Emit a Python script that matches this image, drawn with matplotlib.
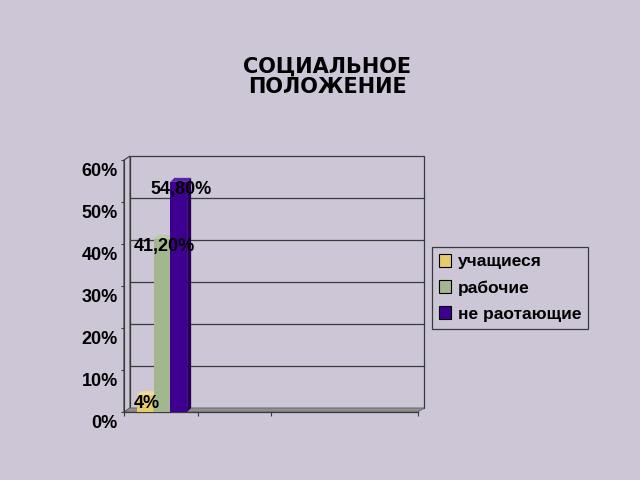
import matplotlib
matplotlib.use("Agg")
import matplotlib.pyplot as plt
from matplotlib.patches import Polygon, Rectangle, Patch

# chart data
groups = ["учащиеся", "рабочие", "не раотающие"]
shares = [0.04, 0.412, 0.548]
share_labels = ["4%", "41,20%", "54,80%"]
y_ticks = [0.0, 0.1, 0.2, 0.3, 0.4, 0.5, 0.6]
y_tick_labels = ["0%", "10%", "20%", "30%", "40%", "50%", "60%"]
x_ticks = [0, 1, 2, 4]
title = "СОЦИАЛЬНОЕ\nПОЛОЖЕНИЕ"

BG = "#CCC6D6"
EDGE = "#3A3A3A"
FRONT = ["#E6CB6E", "#A3B78E", "#3E0090"]
TOP = ["#F0DC94", "#B9CBA6", "#5A22A8"]
SIDE = ["#B89C48", "#7E9269", "#28005C"]

W, H = 640, 480
fig = plt.figure(figsize=(W / 100, H / 100), dpi=100, facecolor=BG)
ax = fig.add_axes([124 / W, (H - 412) / H, 294 / W, 252 / H])
ax.set_xlim(0, 4)
ax.set_ylim(0, 0.6)
ax.patch.set_visible(False)

# pixel -> data steps
px_x = 4 / 294
px_y = 0.6 / 252
wall_dx, wall_dy = 6 * px_x, 4 * px_y
bar_dx, bar_dy = 4 * px_x, 4 * px_y

# back wall, gridlines, left wall, floor
ax.add_patch(Rectangle((wall_dx, wall_dy), 4, 0.6, fill=False, ec=EDGE,
                       lw=0.9, clip_on=False, zorder=1))
for v in y_ticks[1:-1]:
    ax.plot([wall_dx, 4 + wall_dx], [v + wall_dy] * 2, color=EDGE, lw=0.9,
            clip_on=False, zorder=1)
ax.add_patch(Polygon([(0, 0), (wall_dx, wall_dy), (wall_dx, 0.6 + wall_dy), (0, 0.6)],
                     closed=True, fc=BG, ec=EDGE, lw=0.8, clip_on=False, zorder=1.5))
ax.add_patch(Polygon([(0, 0), (4, 0), (4 + wall_dx, wall_dy), (wall_dx, wall_dy)],
                     closed=True, fc="#8E8E8E", ec="#6A6A6A", lw=0.6, clip_on=False,
                     zorder=2))

# bars with a little depth
width = 0.228
center = 0.517
for i, val in enumerate(shares):
    x0 = center + (i - 1) * width - width / 2
    z = 3 + i
    ax.bar(x0, val, width=width, align="edge", color=FRONT[i], lw=0, zorder=z)
    ax.add_patch(Polygon([(x0, val), (x0 + width, val), (x0 + width + bar_dx, val + bar_dy),
                          (x0 + bar_dx, val + bar_dy)], closed=True, fc=TOP[i], lw=0,
                         zorder=z))
    ax.add_patch(Polygon([(x0 + width, 0), (x0 + width + bar_dx, bar_dy),
                          (x0 + width + bar_dx, val + bar_dy), (x0 + width, val)],
                         closed=True, fc=SIDE[i], lw=0, zorder=z))
    ax.annotate(share_labels[i], (x0 + width / 2, val), xytext=(2, -8),
                textcoords="offset pixels", ha="center", va="center",
                fontsize=13, fontweight="bold", family="Liberation Sans", zorder=10)

# axes lines and ticks
for s in ["top", "right"]:
    ax.spines[s].set_visible(False)
ax.spines["left"].set_color(EDGE)
ax.spines["bottom"].set_color(EDGE)
ax.spines["left"].set_linewidth(0.8)
ax.spines["bottom"].set_linewidth(0.9)
ax.set_yticks(y_ticks)
ax.set_yticklabels([])
ax.set_xticks(x_ticks)
ax.set_xticklabels([])
ax.tick_params(axis="y", length=2.5, width=0.8, color=EDGE)
ax.tick_params(axis="x", length=3, width=0.8, color=EDGE)
for v, lab in zip(y_ticks, y_tick_labels):
    ax.annotate(lab, (0, v), xytext=(-6, -12), xycoords=("axes fraction", "data"),
                textcoords="offset pixels", ha="right", va="center", fontsize=13,
                fontweight="bold", family="Liberation Sans", annotation_clip=False)

# legend
handles = [Patch(fc=c, ec="black", lw=0.8) for c in FRONT]
leg = fig.legend(handles, groups, loc="upper left", bbox_to_anchor=(432 / W, 1 - 247 / H),
                 borderaxespad=0, frameon=True, fancybox=False, framealpha=1,
                 facecolor=BG, edgecolor=EDGE, handlelength=0.72, handleheight=0.75,
                 handletextpad=0.35, labelspacing=0.62, borderpad=0.4,
                 prop={"family": "Liberation Sans", "weight": "bold", "size": 12.5})
leg.get_frame().set_linewidth(0.9)

fig.text(327 / W, 1 - 77 / H, title, ha="center", va="center", fontsize=15,
         fontweight="bold", family="DejaVu Sans", linespacing=1.02, color="#000000")

fig.savefig("out.png", dpi=100, facecolor=BG)
